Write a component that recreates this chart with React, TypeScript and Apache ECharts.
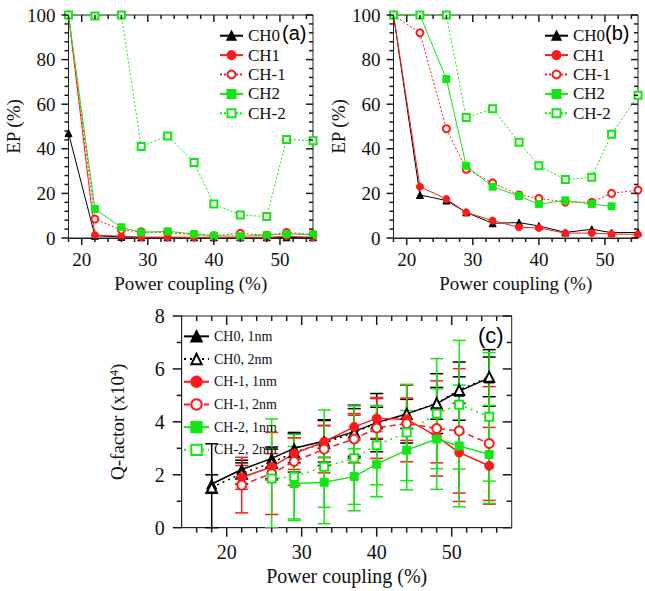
import React, { useEffect, useRef } from 'react';
import * as echarts from 'echarts';

// ---------- data ----------
const coupling = [18, 22, 26, 29, 33, 37, 40, 44, 48, 51, 55];

// panel (a) EP (%)
const aCH0 = [47, 1.0, 0.5, 0.3, 0.3, 0.3, 0.3, 0.3, 0.3, 0.3, 0.3];
const aCH1 = [100, 1.3, 0.8, 0.3, 0.3, 0.2, 0.2, 0.2, 0.2, 0.8, 0.2];
const aCHm1 = [100, 8.5, 3.6, 2.8, 2.4, 1.5, 1.0, 2.1, 1.2, 2.5, 1.5];
const aCH2 = [100, 13, 4.8, 2.5, 3.0, 1.8, 1.0, 0.8, 1.3, 1.8, 1.5];
const aCHm2 = [100, 99.5, 100, 41, 45.7, 33.9, 15.2, 10.3, 9.6, 44.2, 43.6];

// panel (b) EP (%)
const bCH0 = [100, 19.3, 16.8, 11.5, 6.6, 6.9, 5.4, 2.5, 3.9, 2.4, 2.5];
const bCH1 = [100, 23, 17.5, 11.5, 7.8, 4.8, 4.5, 2.2, 2.2, 1.8, 1.6];
const bCHm1 = [100, 92, 49, 30.8, 24.7, 19.3, 17.8, 16.1, 16.0, 20, 21.5];
const bCH2 = [100, 100, 71.3, 32.4, 23, 18.8, 15.2, 16.9, 15.2, 14.2, null];
const bCHm2 = [100, 100, 100, 54, 58, 42.9, 32.4, 26.2, 27.2, 46.5, 64];

// panel (c) Q-factor (x10^4) and error (+/-)
const qCH0_1 = [1.65, 2.2, 2.62, 3.0, 3.28, 3.63, 3.97, 4.3, 4.69, 5.16, 5.66];
const qCH0_2 = [1.52, 2.05, 2.45, 2.85, 3.2, 3.6, 3.95, 4.3, 4.7, 5.2, 5.7];
const qCHm1_1 = [null, 1.9, 2.3, 2.8, 3.25, 3.81, 4.13, 4.1, 3.45, 2.84, 2.34];
const qCHm1_2 = [null, 1.61, 2.05, 2.5, 2.97, 3.35, 3.77, 3.94, 3.75, 3.66, 3.18];
const qCHm2_1 = [null, null, null, 1.67, 1.72, 1.93, 2.4, 2.93, 3.35, 3.09, 2.77];
const qCHm2_2 = [null, null, 1.86, 1.93, 2.3, 2.62, 3.12, 3.6, 4.31, 4.65, 4.19];

const eCH0_1 = [0.35, 0.35, 0.35, 0.55, 0.8, 1.0, 1.1, 0.55, 1.13, 1.1, 1.07];
const eCH0_2 = [1.65, 0.4, 0.6, 0.75, 0.85, 0.9, 0.6, 1.1, 0.6, 0.5, 0.75];
const eCHm1_1 = [null, 0.45, 0.5, 0.6, 0.6, 0.5, 0.75, 0.8, 1.0, 1.85, 1.45];
const eCHm1_2 = [null, 1.05, 1.55, 0.9, 0.9, 0.9, 1.15, 1.45, 1.8, 2.35, 2.15];
const eCHm2_1 = [null, null, null, 1.4, 0.95, 1.05, 1.23, 1.5, 1.9, 2.3, 1.85];
const eCHm2_2 = [null, null, 2.25, 1.6, 2.15, 1.98, 1.5, 1.82, 2.08, 2.43, 2.43];

// axis ranges and ticks
const epXRange = [18, 55];
const epYRange = [0, 100];
const qXRange = [14, 58];
const qYRange = [0, 8];
const epXMajor = [20, 30, 40, 50];
const epXMinor = [18, 22, 24, 26, 28, 32, 34, 36, 38, 42, 44, 46, 48, 52, 54];
const epYMajor = [0, 20, 40, 60, 80, 100];
const epYMinor = [4, 8, 12, 16, 24, 28, 32, 36, 44, 48, 52, 56, 64, 68, 72, 76, 84, 88, 92, 96];
const qXMajor = [20, 30, 40, 50];
const qXMinor = [16, 18, 22, 24, 26, 28, 32, 34, 36, 38, 42, 44, 46, 48, 52, 54, 56];
const qYMajor = [0, 2, 4, 6, 8];
const qYMinor = [1, 3, 5, 7];

const epLegend = ['CH0', 'CH1', 'CH-1', 'CH2', 'CH-2'];
const qLegend = ['CH0, 1nm', 'CH0, 2nm', 'CH-1, 1nm', 'CH-1, 2nm', 'CH-2, 1nm', 'CH-2, 2nm'];

// ---------- styles ----------
const SERIF = "'Liberation Serif', 'Times New Roman', serif";
const SANS = "'Liberation Sans', Arial, sans-serif";
const BLACK = '#000000';
const RED = '#ff1a1a';
const GREEN = '#14e614';
const AXIS = '#222222';

function axis(gridIndex: number, dim: 'x' | 'y', s: any) {
  const ls = { color: AXIS, width: 1 };
  return {
    type: 'value', gridIndex, min: s.range[0], max: s.range[1], silent: true,
    position: dim === 'x' ? 'bottom' : 'left',
    ...(s.interval ? { interval: s.interval } : { splitNumber: 4 }),
    splitLine: { show: false },
    axisLine: { show: true, onZero: false, lineStyle: ls },
    axisTick: { show: false },
    axisLabel: {
      show: true, margin: s.labelMargin, fontSize: s.labelSize, fontFamily: SERIF, color: '#111',
      showMinLabel: !!s.interval, showMaxLabel: !!s.interval,
    },
    name: s.name,
    nameLocation: 'middle',
    nameGap: s.nameGap,
    nameTextStyle: { fontSize: s.nameSize, fontFamily: SERIF, color: '#111', rich: s.rich },
  };
}

// tick marks placed through the axes' scales: outward on bottom/left, inward on top/right
function tickSeries(xi: number, yi: number, xr: number[], yr: number[], xMaj: number[], xMin: number[],
  yMaj: number[], yMin: number[], majorLen: number, minorLen: number) {
  const data: number[][] = [];
  xMaj.forEach((v) => data.push([v, yr[0], 0]));
  xMin.forEach((v) => data.push([v, yr[0], 1]));
  yMaj.forEach((v) => data.push([xr[0], v, 2]));
  yMin.forEach((v) => data.push([xr[0], v, 3]));
  return {
    type: 'custom', name: 'ticks' + xi, xAxisIndex: xi, yAxisIndex: yi, data, silent: true, z: 10,
    clip: false,
    encode: { x: 0, y: 1 },
    renderItem: (params: any, api: any) => {
      const x = api.value(0), y = api.value(1), k = api.value(2);
      const cs = params.coordSys;
      const p = api.coord([x, y]);
      const L = k === 0 || k === 2 ? majorLen : minorLen;
      const style = { stroke: '#1a1a1a', lineWidth: 1.5, fill: null };
      const children: any[] = [];
      if (k < 2) {
        const px = p[0];
        const b = cs.y + cs.height, t = cs.y;
        children.push({ type: 'line', shape: { x1: px, y1: b, x2: px, y2: b + L }, style });
        children.push({ type: 'line', shape: { x1: px, y1: t, x2: px, y2: t + L }, style });
      } else {
        const py = p[1];
        const l = cs.x, r = cs.x + cs.width;
        children.push({ type: 'line', shape: { x1: l - L, y1: py, x2: l, y2: py }, style });
        children.push({ type: 'line', shape: { x1: r - L, y1: py, x2: r, y2: py }, style });
      }
      return { type: 'group', children };
    },
  };
}

function pts(ys: (number | null)[]) {
  const out: number[][] = [];
  coupling.forEach((x, i) => {
    if (ys[i] != null) out.push([x, ys[i] as number]);
  });
  return out;
}

function lineSeries(name: string, ys: (number | null)[], xi: number, yi: number, color: string,
  dash: any, symbol: string, size: number, width: number) {
  return {
    type: 'line', name, xAxisIndex: xi, yAxisIndex: yi, data: pts(ys),
    symbol, symbolSize: size, showSymbol: true, silent: true, z: 3,
    lineStyle: { color, width, type: dash },
    itemStyle: { color, borderColor: color, borderWidth: 1 },
    emphasis: { disabled: true },
  };
}

function errSeries(name: string, ys: (number | null)[], es: (number | null)[], xi: number, yi: number, color: string) {
  const data: number[][] = [];
  coupling.forEach((x, i) => {
    if (ys[i] != null && es[i] != null) data.push([x, ys[i] as number, es[i] as number]);
  });
  return {
    type: 'custom', name, xAxisIndex: xi, yAxisIndex: yi, data, silent: true, z: 2,
    clip: false,
    encode: { x: 0, y: 1 },
    renderItem: (_p: any, api: any) => {
      const x = api.value(0), v = api.value(1), e = api.value(2);
      const lo = Math.max(0, v - e), hi = v + e;
      const a = api.coord([x, hi]);
      const b = api.coord([x, lo]);
      const hw = 6.5;
      const style = { stroke: color, lineWidth: 1.5, fill: null };
      return {
        type: 'group',
        children: [
          { type: 'line', shape: { x1: a[0], y1: a[1], x2: b[0], y2: b[1] }, style },
          { type: 'line', shape: { x1: a[0] - hw, y1: a[1], x2: a[0] + hw, y2: a[1] }, style },
          { type: 'line', shape: { x1: b[0] - hw, y1: b[1], x2: b[0] + hw, y2: b[1] }, style },
        ],
      };
    },
  };
}

function buildOption() {
  const epX = { range: epXRange, labelSize: 19, labelMargin: 12, name: 'Power coupling (%)', nameGap: 36, nameSize: 19 };
  const epY = { range: epYRange, interval: 20, labelSize: 19, labelMargin: 13, name: 'EP (%)', nameGap: 36, nameSize: 19 };
  const xAxis = [
    axis(0, 'x', epX),
    axis(1, 'x', epX),
    axis(2, 'x', { range: qXRange, labelSize: 20, labelMargin: 14, name: 'Power coupling (%)', nameGap: 38, nameSize: 20 }),
  ];
  const yAxis = [
    axis(0, 'y', epY),
    axis(1, 'y', epY),
    axis(2, 'y', {
      range: qYRange, interval: 2, labelSize: 20, labelMargin: 17, name: 'Q-factor (x10{sup|4})', nameGap: 55, nameSize: 19,
      rich: { sup: { fontSize: 12, fontFamily: SERIF, color: '#111', verticalAlign: 'top', lineHeight: 12 } },
    }),
  ];

  const dotted = [2, 2];
  const series: any[] = [
    lineSeries('CH0', aCH0, 0, 0, BLACK, 'solid', 'triangle', 7, 1),
    lineSeries('CH1', aCH1, 0, 0, RED, 'solid', 'circle', 7, 1),
    lineSeries('CH-1', aCHm1, 0, 0, RED, dotted, 'emptyCircle', 7, 1),
    lineSeries('CH2', aCH2, 0, 0, GREEN, 'solid', 'rect', 7, 1),
    lineSeries('CH-2', aCHm2, 0, 0, GREEN, dotted, 'emptyRect', 7, 1),

    lineSeries('CH0', bCH0, 1, 1, BLACK, 'solid', 'triangle', 7, 1),
    lineSeries('CH1', bCH1, 1, 1, RED, 'solid', 'circle', 7, 1),
    lineSeries('CH-1', bCHm1, 1, 1, RED, dotted, 'emptyCircle', 7, 1),
    lineSeries('CH2', bCH2, 1, 1, GREEN, 'solid', 'rect', 7, 1),
    lineSeries('CH-2', bCHm2, 1, 1, GREEN, dotted, 'emptyRect', 7, 1),

    errSeries('err CH0 1', qCH0_1, eCH0_1, 2, 2, BLACK),
    errSeries('err CH0 2', qCH0_2, eCH0_2, 2, 2, BLACK),
    errSeries('err CH-1 1', qCHm1_1, eCHm1_1, 2, 2, RED),
    errSeries('err CH-1 2', qCHm1_2, eCHm1_2, 2, 2, RED),
    errSeries('err CH-2 1', qCHm2_1, eCHm2_1, 2, 2, GREEN),
    errSeries('err CH-2 2', qCHm2_2, eCHm2_2, 2, 2, GREEN),

    lineSeries('CH0, 1nm', qCH0_1, 2, 2, BLACK, 'solid', 'triangle', 10, 1.5),
    lineSeries('CH0, 2nm', qCH0_2, 2, 2, BLACK, [2, 4], 'emptyTriangle', 10, 1.5),
    lineSeries('CH-1, 1nm', qCHm1_1, 2, 2, RED, 'solid', 'circle', 9, 1.5),
    lineSeries('CH-1, 2nm', qCHm1_2, 2, 2, RED, [6, 4], 'emptyCircle', 9, 1.5),
    lineSeries('CH-2, 1nm', qCHm2_1, 2, 2, GREEN, 'solid', 'rect', 8, 1.5),
    lineSeries('CH-2, 2nm', qCHm2_2, 2, 2, GREEN, [2, 4], 'emptyRect', 8, 1.5),

    tickSeries(0, 0, epXRange, epYRange, epXMajor, epXMinor, epYMajor, epYMinor, 7, 4),
    tickSeries(1, 1, epXRange, epYRange, epXMajor, epXMinor, epYMajor, epYMinor, 7, 4),
    tickSeries(2, 2, qXRange, qYRange, qXMajor, qXMinor, qYMajor, qYMinor, 9, 5),
  ];

  const legendBase = { orient: 'vertical', itemGap: 0, selectedMode: false, padding: 0 };
  const gridBase = { show: true, borderColor: AXIS, borderWidth: 1, backgroundColor: 'transparent', containLabel: false, outerBoundsMode: 'none' };

  return {
    animation: false,
    backgroundColor: '#ffffff',
    grid: [
      { ...gridBase, left: 68.5, top: 15, width: 244.5, height: 223 },
      { ...gridBase, left: 393.5, top: 15, width: 244.5, height: 223 },
      { ...gridBase, left: 181.7, top: 316, width: 330, height: 211.7 },
    ],
    xAxis,
    yAxis,
    legend: [
      {
        ...legendBase, data: epLegend, left: 219, top: 26, itemWidth: 23, itemHeight: 10,
        textStyle: { fontFamily: SERIF, fontSize: 17, color: '#111', lineHeight: 19.4 },
      },
      {
        ...legendBase, data: epLegend, left: 544, top: 26, itemWidth: 23, itemHeight: 10,
        textStyle: { fontFamily: SERIF, fontSize: 17, color: '#111', lineHeight: 19.4 },
      },
      {
        ...legendBase, data: qLegend, left: 183, top: 325, itemWidth: 25, itemHeight: 13,
        textStyle: { fontFamily: SERIF, fontSize: 14, color: '#111', lineHeight: 22.7 },
      },
    ],
    graphic: [
      { type: 'text', x: 282, y: 33, style: { text: '(a)', fontSize: 20, fontFamily: SANS, fill: '#000', verticalAlign: 'middle' } },
      { type: 'text', x: 605, y: 33, style: { text: '(b)', fontSize: 20, fontFamily: SANS, fill: '#000', verticalAlign: 'middle' } },
      { type: 'text', x: 478, y: 335, style: { text: '(c)', fontSize: 22, fontFamily: SANS, fill: '#000', verticalAlign: 'middle' } },
    ],
    series,
  };
}

export default function App() {
  const ref = useRef<HTMLDivElement>(null);
  useEffect(() => {
    if (!ref.current) return;
    const chart = echarts.init(ref.current, undefined, { renderer: 'svg' });
    chart.setOption(buildOption() as any);
    return () => chart.dispose();
  }, []);
  return (
    <div
      ref={ref}
      style={{ position: 'absolute', left: 0, top: 0, width: 645, height: 591, background: '#fff' }}
    />
  );
}
